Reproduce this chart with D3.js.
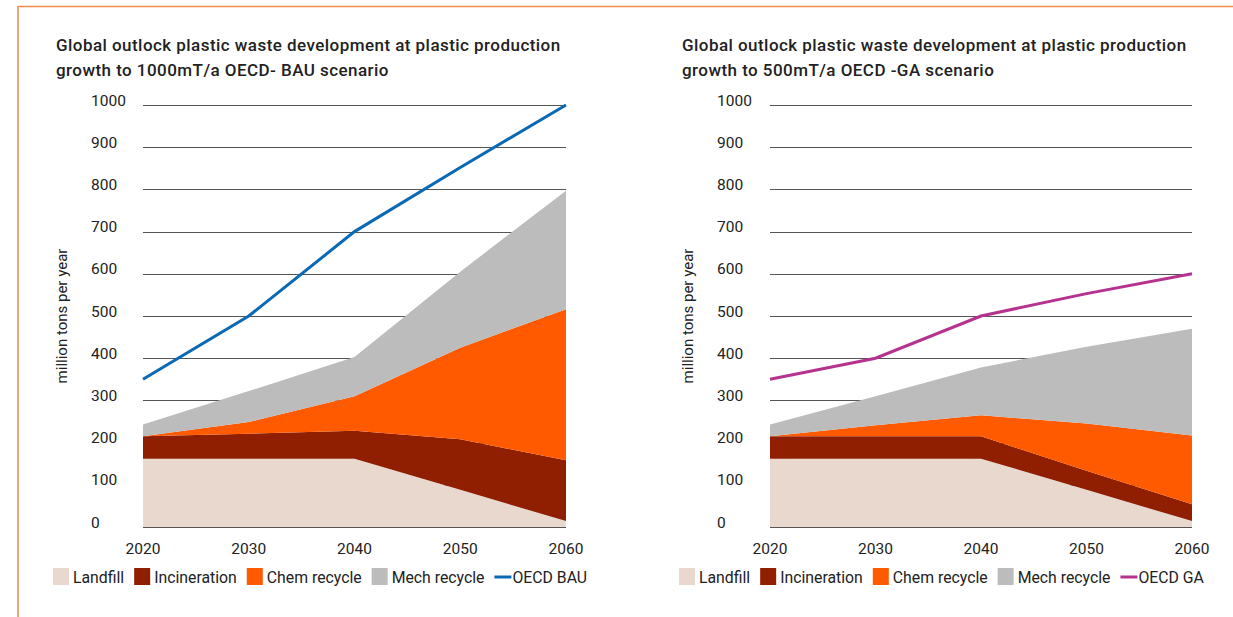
<!DOCTYPE html>
<html>
<head>
<meta charset="utf-8">
<script src="https://cdn.jsdelivr.net/npm/d3@7/dist/d3.min.js"></script>
<style>
  html, body { margin: 0; padding: 0; background: #fff; }
  svg { display: block; font-family: Roboto, "Noto Sans", sans-serif; }
</style>
</head>
<body>
<svg id="chart" width="1233" height="617"></svg>
<script>
// ---------- DATA ----------
const years = [2020, 2030, 2040, 2050, 2060];
const yTicks = [0, 100, 200, 300, 400, 500, 600, 700, 800, 900, 1000];
const seriesNames = ["Landfill", "Incineration", "Chem recycle", "Mech recycle"];
const seriesColors = ["#e8d8ce", "#8f1f00", "#ff5a00", "#bcbcbc"];

// Left chart: OECD BAU scenario
const bauTitle = ["Global outlock plastic waste development at plastic production",
                  "growth to 1000mT/a OECD- BAU scenario"];
const bauLandfill = [162, 162, 162, 88, 14];
const bauIncineration = [53, 59, 66, 120, 144];
const bauChem = [0, 28, 82, 217, 358];
const bauMech = [28, 73, 93, 180, 281];
const bauLineName = "OECD BAU";
const bauLine = [350, 500, 700, 852, 1000];
const bauLineColor = "#0a69b4";

// Right chart: OECD GA scenario
const gaTitle = ["Global outlock plastic waste development at plastic production",
                 "growth to 500mT/a OECD -GA scenario"];
const gaLandfill = [162, 162, 162, 88, 14];
const gaIncineration = [53, 53, 53, 45, 40];
const gaChem = [0, 26, 50, 112, 163];
const gaMech = [28, 69, 113, 182, 253];
const gaLineName = "OECD GA";
const gaLine = [350, 400, 500, 553, 600];
const gaLineColor = "#b5338f";

const yAxisTitle = "million tons per year";

// ---------- DRAW ----------
const svg = d3.select("#chart");

// orange frame
svg.append("line").attr("x1", 18).attr("x2", 1233).attr("y1", 6.5).attr("y2", 6.5)
  .attr("stroke", "#f28a45").attr("stroke-width", 1.5);
svg.append("line").attr("x1", 18).attr("x2", 18).attr("y1", 6).attr("y2", 617)
  .attr("stroke", "#f28a45").attr("stroke-width", 1.5);

function drawChart(cfg) {
  const g = svg.append("g");
  const x = d3.scalePoint().domain(years).range([cfg.x0, cfg.x1]);
  const y = d3.scaleLinear().domain([0, 1000]).range([527, 105]);

  // title
  const title = g.append("text").attr("x", cfg.titleX).attr("y", 51)
    .attr("font-size", 17).attr("font-weight", 500).attr("letter-spacing", 0.45)
    .attr("fill", "#222");
  cfg.title.forEach((t, i) => {
    title.append("tspan").attr("x", cfg.titleX).attr("dy", i === 0 ? 0 : 25).text(t);
  });

  // gridlines
  g.append("g").selectAll("line").data(yTicks).join("line")
    .attr("x1", cfg.x0).attr("x2", cfg.x1)
    .attr("y1", d => Math.round(y(d)) + 0.5).attr("y2", d => Math.round(y(d)) + 0.5)
    .attr("stroke", "#555").attr("stroke-width", 1.2);

  // y labels
  g.append("g").selectAll("text").data(yTicks).join("text")
    .attr("x", cfg.labelX).attr("y", d => y(d) + 0.5)
    .attr("font-size", 15.5).attr("fill", "#222").text(d => d);

  // y axis title
  g.append("text")
    .attr("transform", `translate(${cfg.labelX - 24},316) rotate(-90)`)
    .attr("text-anchor", "middle").attr("font-size", 15).attr("fill", "#222")
    .text(yAxisTitle);

  // stacked areas
  const rows = years.map((yr, i) => ({
    year: yr,
    "Landfill": cfg.series[0][i],
    "Incineration": cfg.series[1][i],
    "Chem recycle": cfg.series[2][i],
    "Mech recycle": cfg.series[3][i]
  }));
  const stack = d3.stack().keys(seriesNames)(rows);
  const area = d3.area()
    .x(d => x(d.data.year)).y0(d => y(d[0])).y1(d => y(d[1]));
  g.append("g").selectAll("path").data(stack).join("path")
    .attr("d", area).attr("fill", (d, i) => seriesColors[i]);

  // line
  const line = d3.line().x((d, i) => x(years[i])).y(d => y(d));
  g.append("path").datum(cfg.line).attr("d", line)
    .attr("fill", "none").attr("stroke", cfg.lineColor).attr("stroke-width", 3);

  // x labels
  g.append("g").selectAll("text").data(years).join("text")
    .attr("x", d => x(d)).attr("y", 554).attr("text-anchor", "middle")
    .attr("font-size", 15.5).attr("fill", "#222").text(d => d);

  // legend
  let lx = cfg.legendX;
  const ly = 577;
  const leg = g.append("g");
  seriesNames.forEach((name, i) => {
    leg.append("rect").attr("x", lx).attr("y", ly - 9).attr("width", 16).attr("height", 17)
      .attr("fill", seriesColors[i]);
    const t = leg.append("text").attr("x", lx + 20).attr("y", ly + 6)
      .attr("font-size", 15.8).attr("fill", "#222").text(name);
    lx += 20 + t.node().getComputedTextLength() + 10;
  });
  leg.append("line").attr("x1", lx).attr("x2", lx + 17).attr("y1", ly).attr("y2", ly)
    .attr("stroke", cfg.lineColor).attr("stroke-width", 3);
  leg.append("text").attr("x", lx + 18).attr("y", ly + 6)
    .attr("font-size", 15.8).attr("fill", "#222").text(cfg.lineName);
}

drawChart({
  x0: 143, x1: 566, labelX: 91, titleX: 56, legendX: 53,
  title: bauTitle,
  series: [bauLandfill, bauIncineration, bauChem, bauMech],
  line: bauLine, lineColor: bauLineColor, lineName: bauLineName
});
drawChart({
  x0: 770, x1: 1192, labelX: 717, titleX: 682, legendX: 679,
  title: gaTitle,
  series: [gaLandfill, gaIncineration, gaChem, gaMech],
  line: gaLine, lineColor: gaLineColor, lineName: gaLineName
});
</script>
</body>
</html>
